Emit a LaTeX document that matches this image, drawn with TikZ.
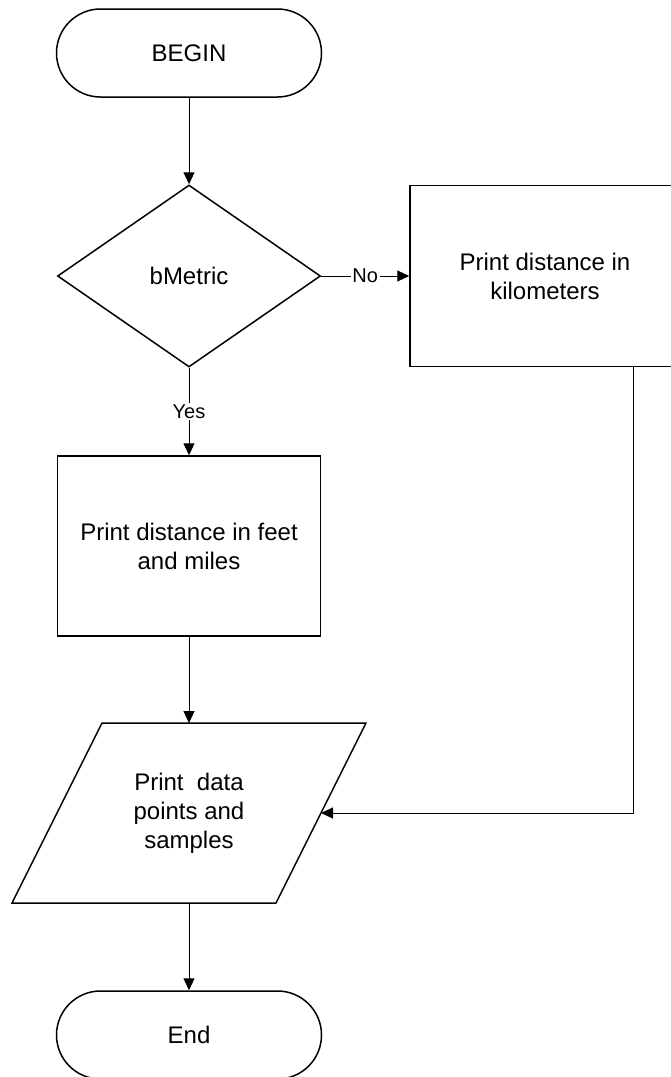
\documentclass[tikz,border=0pt]{standalone}
\usepackage{fontspec}
\setmainfont{Liberation Sans}
\usetikzlibrary{positioning,arrows.meta,shapes.geometric}

\begin{document}
\begin{tikzpicture}[x=1pt,y=-1pt,>={Triangle[length=12pt,width=11pt]},
  font=\fontsize{24}{29}\selectfont,
  chartshape/.style={draw,line width=1.5pt,align=center,inner sep=0pt},
  terminal/.style={chartshape,rectangle,rounded corners=44pt,minimum width=265pt,minimum height=88pt},
  procbox/.style={chartshape,rectangle,minimum width=263pt,minimum height=180pt},
  decision/.style={chartshape,diamond,minimum width=263pt,minimum height=182pt},
  flow/.style={->,line width=1pt},
  branch/.style={fill=white,inner sep=1.5pt,font=\fontsize{20}{23}\selectfont}]
\clip (0,0) rectangle (671,1077);
\node[terminal] (begin) at (189,53) {BEGIN};
\node[decision] (metric) at (189,276) {bMetric};
\node[procbox,minimum width=270pt,minimum height=181pt] (kmbox) at (545,276) {Print distance in\\kilometers};
\node[procbox] (ftbox) at (189,546) {Print distance in feet\\and miles};
\node[align=center,inner sep=0pt] (output) at (189,813) {Print~ data\\points and\\samples};
\node[terminal] (finish) at (189,1035) {End};
\coordinate (iobl) at (12,903);
\coordinate (iotl) at (102,723);
\coordinate (iotr) at (366,723);
\coordinate (iobr) at (276,903);
\coordinate (ioin) at (321,813);
\coordinate (corner) at (633,813);
\draw[line width=1.5pt] (iobl) -- (iotl) -- (iotr) -- (iobr) -- cycle;

\draw[flow] (begin) -- (metric);
\draw[flow] (metric) -- node[branch]{No} (kmbox);
\draw[flow] (metric) -- node[branch]{Yes} (ftbox);
\draw[flow] (ftbox) -- (ftbox |- iotl);
\draw[flow] (kmbox.south -| corner) -- (corner) -- (ioin);
\draw[flow] (output |- iobl) -- (finish);
\end{tikzpicture}
\end{document}
